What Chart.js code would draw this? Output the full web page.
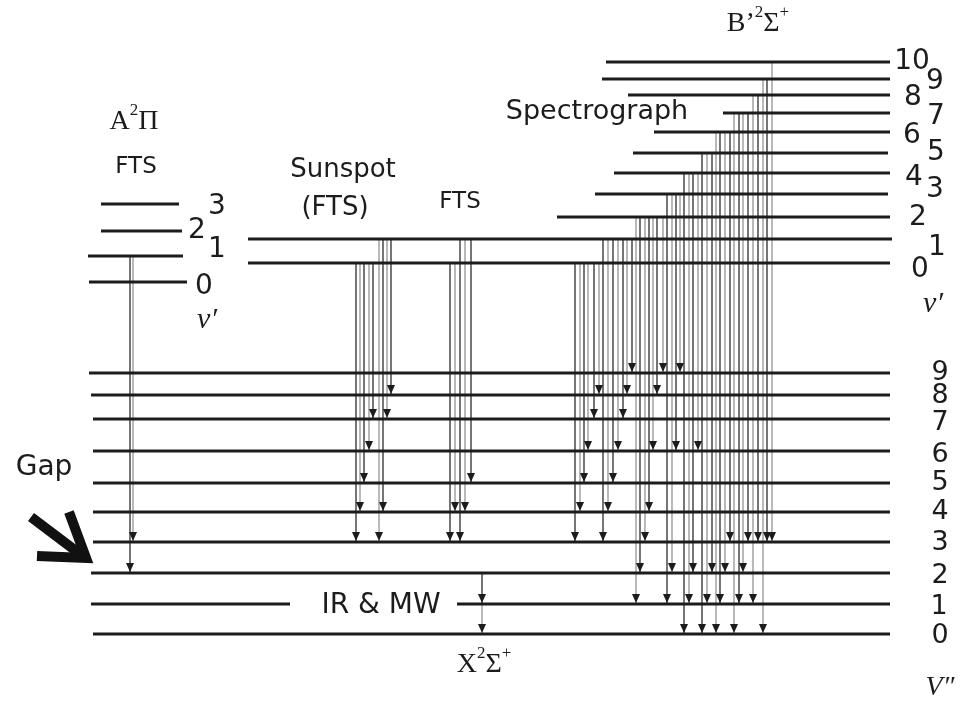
<!DOCTYPE html>
<html>
<head>
<meta charset="utf-8">
<script src="https://cdn.jsdelivr.net/npm/chart.js@4.4.0/dist/chart.umd.min.js"></script>
<style>
  html, body { margin: 0; padding: 0; background: #fff; }
</style>
</head>
<body>
<canvas id="diagram" width="974" height="705"></canvas>
<script>
// term energies, in figure units measured up from the bottom edge
const xVib = ['0', '1', '2', '3', '4', '5', '6', '7', '8', '9'];
const xEnergy = [71, 101, 132, 163, 193, 222, 254, 286, 310, 332];
const aVib = ['0', '1', '2', '3'];
const aEnergy = [423, 449, 474, 501];
const bVib = ['0', '1', '2', '3', '4', '5', '6', '7', '8', '9', '10'];
const bEnergy = [442, 466, 488, 511, 532, 552, 573, 592, 610, 626, 643];

// observed bands: [v', v'', x where the band is drawn]
const aBands = [[1, 2, 130], [1, 3, 133]];
const sunspotBands = [
  [0, 3, 356], [0, 4, 360], [0, 5, 364], [0, 6, 369], [0, 7, 373],
  [1, 3, 379], [1, 4, 383], [1, 7, 387], [1, 8, 391],
];
const ftsBands = [[0, 3, 450], [0, 4, 455], [1, 3, 460], [1, 4, 465], [1, 5, 471]];
const spectroBands = [
  [0, 3, 575], [0, 4, 580], [0, 5, 584], [0, 6, 588], [0, 7, 594], [0, 8, 599],
  [1, 3, 603], [1, 4, 608], [1, 5, 613], [1, 6, 618], [1, 7, 623], [1, 8, 627], [1, 9, 632],
  [2, 1, 636], [2, 2, 640], [2, 3, 645], [2, 4, 649], [2, 6, 653], [2, 8, 657], [2, 9, 663],
  [3, 1, 667], [3, 2, 672], [3, 6, 676], [3, 9, 680],
  [4, 0, 684], [4, 1, 689], [4, 2, 693], [4, 6, 698],
  [5, 0, 702], [5, 1, 707], [5, 2, 712],
  [6, 0, 716], [6, 1, 720], [6, 2, 725], [6, 3, 730],
  [7, 0, 734], [7, 1, 739], [7, 2, 743], [7, 3, 748],
  [8, 1, 753], [8, 3, 758],
  [9, 0, 763], [9, 3, 767],
  [10, 3, 772],
];
// pure rotation / microwave lines inside the ground state: [v upper, v lower, x]
const irBands = [[2, 1, 482], [1, 0, 482]];

// ---- layout (horizontal extents of the level lines, label spots) ----
const xSpan = [
  [[93, 890]], [[91, 290], [457, 890]], [[91, 890]], [[93, 890]], [[93, 890]],
  [[93, 890]], [[93, 890]], [[93, 890]], [[91, 890]], [[89, 890]],
];
const aSpan = [[89, 187], [88, 183], [101, 182], [101, 179]];
const bSpan = [
  [248, 890], [248, 892], [557, 890], [595, 888], [614, 890], [633, 888],
  [654, 890], [723, 890], [628, 890], [602, 890], [606, 890],
];
const xLabelPos = [[940, 636], [939, 607], [940, 576], [940, 543], [940, 512],
  [940, 483], [940, 455], [940, 423], [940, 396], [940, 373]];
const aLabelPos = [[204, 287], [217, 250], [197, 231], [217, 207]];
const bLabelPos = [[920, 270], [937, 248], [918, 218], [935, 190], [914, 178], [936, 153],
  [912, 136], [936, 117], [913, 98], [935, 82], [912, 62]];

const SANS = '"DejaVu Sans", sans-serif';
const SERIF = '"Liberation Serif", "DejaVu Serif", serif';
const INK = '#1c1c1c';
const GREY = '#8c8c8c';

const datasets = [];

function addLevel(x0, x1, e) {
  datasets.push({
    data: [{ x: x0, y: e }, { x: x1, y: e }],
    borderColor: INK,
    borderWidth: 3,
    order: 0,
  });
}

function addBands(bands, upper, lower) {
  bands.forEach(([vu, vl, x], i) => {
    datasets.push({
      data: [{ x, y: upper[vu] }, { x, y: lower[vl] }],
      borderColor: i % 2 ? GREY : INK,
      borderWidth: 1.2,
      order: 1,
      arrow: true,
    });
  });
}

xEnergy.forEach((e, v) => xSpan[v].forEach(([a, b]) => addLevel(a, b, e)));
aEnergy.forEach((e, v) => addLevel(aSpan[v][0], aSpan[v][1], e));
bEnergy.forEach((e, v) => addLevel(bSpan[v][0], bSpan[v][1], e));

addBands(aBands, aEnergy, xEnergy);
addBands(sunspotBands, bEnergy, xEnergy);
addBands(ftsBands, bEnergy, xEnergy);
addBands(spectroBands, bEnergy, xEnergy);
addBands(irBands, xEnergy, xEnergy);

// rich text: parts are [text, relative size, baseline shift in em]
const labels = [
  { x: 134, y: 122, size: 28, font: SERIF, parts: [['A', 1, 0], ['2', 0.62, -0.42], ['\u03A0', 1, 0]] },
  { x: 136, y: 167, size: 23, font: SANS, parts: [['FTS', 1, 0]] },
  { x: 343, y: 170, size: 26, font: SANS, parts: [['Sunspot', 1, 0]] },
  { x: 335, y: 208, size: 26, font: SANS, parts: [['(FTS)', 1, 0]] },
  { x: 460, y: 202, size: 23, font: SANS, parts: [['FTS', 1, 0]] },
  { x: 597, y: 112, size: 27, font: SANS, parts: [['Spectrograph', 1, 0]] },
  { x: 758, y: 24, size: 28, font: SERIF, parts: [['B\u2019', 1, 0], ['2', 0.62, -0.42], ['\u03A3', 1, 0], ['+', 0.62, -0.42]] },
  { x: 484, y: 665, size: 28, font: SERIF, parts: [['X', 1, 0], ['2', 0.62, -0.42], ['\u03A3', 1, 0], ['+', 0.62, -0.42]] },
  { x: 44, y: 468, size: 28, font: SANS, parts: [['Gap', 1, 0]] },
  { x: 381, y: 606, size: 28, font: SANS, parts: [['IR & MW', 1, 0]] },
  { x: 207, y: 320, size: 30, font: 'italic ' + SERIF, parts: [['v\u2032', 1, 0]] },
  { x: 933, y: 304, size: 30, font: 'italic ' + SERIF, parts: [['v\u2032', 1, 0]] },
  { x: 940, y: 688, size: 28, font: 'italic ' + SERIF, parts: [['V\u2033', 1, 0]] },
];
xVib.forEach((t, i) => labels.push({ x: xLabelPos[i][0], y: xLabelPos[i][1], size: 27, font: SANS, parts: [[t, 1, 0]] }));
aVib.forEach((t, i) => labels.push({ x: aLabelPos[i][0], y: aLabelPos[i][1], size: 28, font: SANS, parts: [[t, 1, 0]] }));
bVib.forEach((t, i) => labels.push({ x: bLabelPos[i][0], y: bLabelPos[i][1], size: 28, font: SANS, parts: [[t, 1, 0]] }));

function drawRich(ctx, lab) {
  const fontFor = (rel) => {
    const italic = lab.font.startsWith('italic ');
    const fam = italic ? lab.font.slice(7) : lab.font;
    return (italic ? 'italic ' : '') + Math.round(lab.size * rel) + 'px ' + fam;
  };
  let total = 0;
  lab.parts.forEach(([t, rel]) => { ctx.font = fontFor(rel); total += ctx.measureText(t).width; });
  let cx = lab.x - total / 2;
  ctx.textBaseline = 'middle';
  ctx.textAlign = 'left';
  lab.parts.forEach(([t, rel, dy]) => {
    ctx.font = fontFor(rel);
    ctx.fillText(t, cx, lab.y + dy * lab.size);
    cx += ctx.measureText(t).width;
  });
}

const decor = {
  id: 'decor',
  afterDatasetsDraw(chart) {
    const ctx = chart.ctx;
    ctx.save();
    ctx.fillStyle = INK;
    chart.data.datasets.forEach((ds, i) => {
      if (!ds.arrow) return;
      const tip = chart.getDatasetMeta(i).data[1];
      const y = tip.y - 1;
      ctx.beginPath();
      ctx.moveTo(tip.x - 4, y - 9);
      ctx.lineTo(tip.x + 4, y - 9);
      ctx.lineTo(tip.x, y);
      ctx.closePath();
      ctx.fill();
    });

    labels.forEach(l => drawRich(ctx, l));

    // the big pointer at the gap
    ctx.strokeStyle = '#111';
    ctx.lineWidth = 10;
    ctx.lineJoin = 'miter';
    ctx.lineCap = 'butt';
    ctx.beginPath();
    ctx.moveTo(69, 512);
    ctx.lineTo(86, 558);
    ctx.lineTo(37, 556);
    ctx.stroke();
    ctx.beginPath();
    ctx.moveTo(31, 517);
    ctx.lineTo(80, 554);
    ctx.stroke();
    ctx.restore();
  },
};

new Chart(document.getElementById('diagram').getContext('2d'), {
  type: 'scatter',
  data: { datasets: datasets.map(d => ({ ...d, showLine: true, pointRadius: 0, fill: false, borderCapStyle: 'butt' })) },
  options: {
    responsive: false,
    animation: false,
    events: [],
    layout: { padding: 0 },
    plugins: { legend: { display: false }, tooltip: { enabled: false } },
    scales: {
      x: { type: 'linear', min: 0, max: 974, display: false },
      y: { type: 'linear', min: 0, max: 705, display: false },
    },
  },
  plugins: [decor],
});
</script>
</body>
</html>
